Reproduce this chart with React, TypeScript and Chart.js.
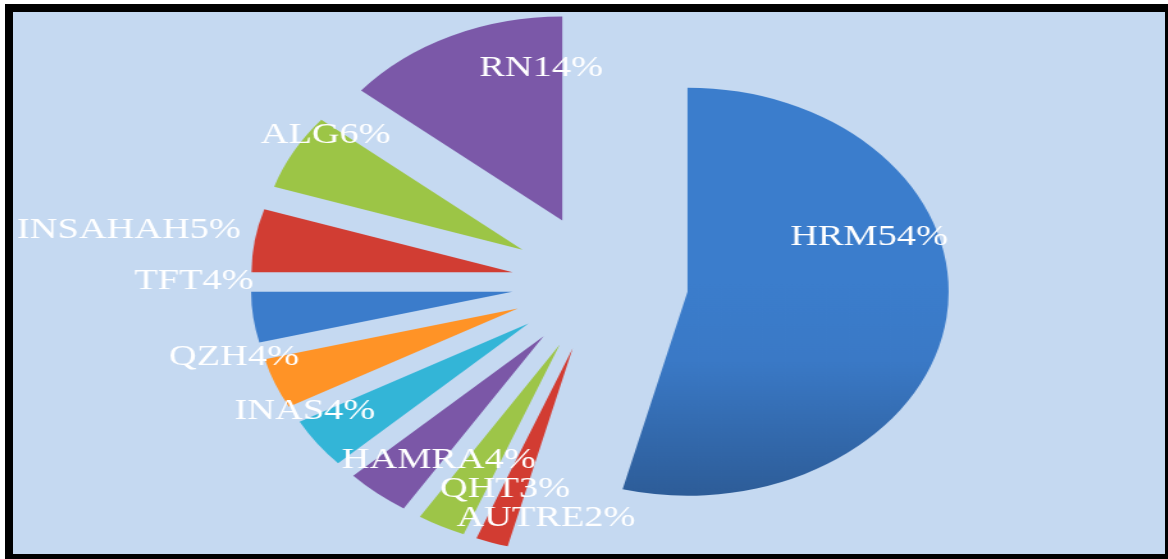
import React, { useEffect, useRef } from "react";
import { Chart, registerables } from "chart.js";

Chart.register(...registerables);

// Data
const categories = ["HRM", "AUTRE", "QHT", "HAMRA", "INAS", "QZH", "TFT", "INSAHAH", "ALG", "RN"];
const shares = [54, 2, 3, 4, 4, 4, 4, 5, 6, 14];
const sliceColors = [
  "#3B7DCC",
  "#D23C32",
  "#9DC548",
  "#7B57A7",
  "#33B5D7",
  "#FF9326",
  "#3B7CCB",
  "#D13D33",
  "#9CC546",
  "#7B58A8",
];
// label placement relative to each exploded slice apex: angle from 12 o'clock clockwise (deg), radius factor
const labelAngles = [69, 187, 196.5, 213.5, 243.4, 257.6, 272.4, 278, 306.7, 353.8];
const labelRadii = [0.745, 0.837, 0.739, 0.727, 0.957, 1.113, 1.22, 1.484, 0.94, 0.752];

const SHIFT = 69; // explode distance, px
const RADIUS = 204;
const STRETCH = 1.28;
const CANVAS_W = 900;
const CANVAS_H = 542;

// explode every slice by the same distance along its mid-angle (no radius/angle shrink)
const explode = {
  id: "explode",
  afterDatasetUpdate(chart: any, args: any) {
    const meta = chart.getDatasetMeta(args.index);
    meta.data.forEach((arc: any) => {
      const half = (arc.startAngle + arc.endAngle) / 2;
      arc.x = arc.x + Math.cos(half) * SHIFT;
      arc.y = arc.y + Math.sin(half) * SHIFT;
    });
  },
};

const labelPlugin = {
  id: "sliceLabels",
  afterDatasetsDraw(chart: any) {
    const ctx = chart.ctx;
    const meta = chart.getDatasetMeta(0);
    ctx.save();
    ctx.fillStyle = "#FFFFFF";
    ctx.font = '30px "Liberation Serif", "Times New Roman", serif';
    ctx.textAlign = "center";
    ctx.textBaseline = "middle";
    meta.data.forEach((arc: any, i: number) => {
      const a = ((labelAngles[i] - 90) * Math.PI) / 180;
      const r = labelRadii[i] * arc.outerRadius;
      ctx.fillText(categories[i] + shares[i] + "%", arc.x + Math.cos(a) * r, arc.y + Math.sin(a) * r);
    });
    ctx.restore();
  },
};

export default function App() {
  const ref = useRef<HTMLCanvasElement | null>(null);
  useEffect(() => {
    if (!ref.current) return;
    const chart = new Chart(ref.current, {
      type: "pie",
      data: {
        labels: categories,
        datasets: [
          {
            data: shares,
            backgroundColor: (c: any) => {
              const i = c.dataIndex;
              if (i === 0 && c.chart.chartArea) {
                const area = c.chart.chartArea;
                const cy = (area.top + area.bottom) / 2;
                const g = c.chart.ctx.createLinearGradient(0, cy, 0, cy + RADIUS + 20);
                g.addColorStop(0, "#3B7DCC");
                g.addColorStop(0.35, "#3A79C6");
                g.addColorStop(1, "#2C5A94");
                return g;
              }
              return sliceColors[i];
            },
            borderWidth: 0,
            offset: 0,
            clip: false as any,
          },
        ],
      },
      options: {
        animation: false,
        responsive: false,
        radius: RADIUS,
        layout: { padding: { left: 17, right: 0, top: 0, bottom: 0 } },
        plugins: {
          legend: { display: false },
          tooltip: { enabled: false },
        },
        events: [],
      } as any,
      plugins: [explode, labelPlugin],
    });
    return () => chart.destroy();
  }, []);

  return (
    <div
      style={{
        position: "fixed",
        left: 5,
        top: 4,
        width: 1152,
        height: 542,
        border: "8px solid #000",
        background: "#C5D9F1",
        overflow: "hidden",
      }}
    >
      <div
        style={{
          width: CANVAS_W,
          height: CANVAS_H,
          transform: `scaleX(${STRETCH})`,
          transformOrigin: "0 0",
        }}
      >
        <canvas ref={ref} width={CANVAS_W} height={CANVAS_H} style={{ display: "block" }} />
      </div>
    </div>
  );
}
